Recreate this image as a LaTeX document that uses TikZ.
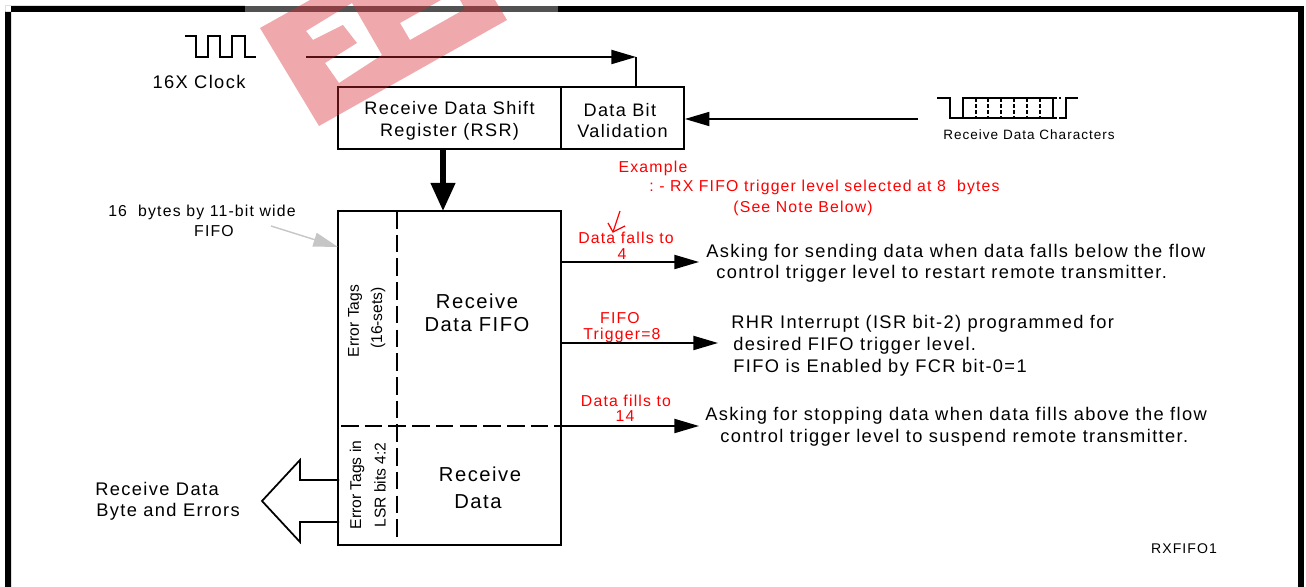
\documentclass[tikz,border=0pt]{standalone}
\usepackage{fontspec}
\setmainfont[LetterSpace=7.5]{Liberation Sans}
\newfontfamily\tagfont{Liberation Sans}
\usetikzlibrary{arrows.meta}
\definecolor{markred}{RGB}{216,40,48}
\tikzset{
  boxnode/.style={draw,line width=1pt,inner sep=0pt,align=center,font=\fontsize{10.3}{12.3}\selectfont},
  lbl/.style={inner sep=0pt,font=\fontsize{10.4}{12}\selectfont},
  biglbl/.style={inner sep=0pt,font=\fontsize{11.5}{13}\selectfont},
  notelbl/.style={inner sep=0pt,font=\fontsize{9}{10}\selectfont},
  redlbl/.style={notelbl,text=red},
  taglbl/.style={inner sep=0pt,rotate=90,font=\tagfont\fontsize{8.9}{10}\selectfont},
  smalllbl/.style={inner sep=0pt,font=\fontsize{7.7}{9}\selectfont},
  conn/.style={line width=1pt},
  flow/.style={line width=1pt,-{Triangle[length=14pt,width=8pt]}},
  bigflow/.style={line width=3pt,-{Triangle[length=16pt,width=13.5pt]}},
  noteflow/.style={draw=gray!45,line width=.8pt,-{Triangle[length=14pt,width=8pt,fill=gray!45]}},
  sepline/.style={line width=1pt,dash pattern=on 10pt off 3.5pt}
}
\begin{document}
\begin{tikzpicture}[x=0.02cm,y=-0.02cm]
  \useasboundingbox (0,0) rectangle (1306,587);

  % frame, open at the bottom
  \fill (5,587) rectangle (11,6) -- (5,6) rectangle (245,12);
  \fill[black!68] (245,6) rectangle (558,12);
  \fill (558,6) rectangle (1304,12);
  \fill (1298,6) rectangle (1304,587);

  % boxes
  \node[boxnode,minimum width=4.46cm,minimum height=1.24cm] (rsr) at (449.5,118) {\rule{0pt}{10.5pt}Receive Data Shift\\Register (RSR)};
  \node[boxnode,minimum width=2.46cm,minimum height=1.24cm] (dbv) at (622.5,118) {\rule{0pt}{10.5pt}\hspace*{-3pt}Data Bit\\Validation};
  \node[draw,line width=1pt,minimum width=4.46cm,minimum height=6.68cm] (fifo) at (449.5,378) {};

  % clock and data waves
  \draw[conn] (185,36) -- (196,36) -- (196,57) -- (208,57) -- (208,36) -- (220,36) -- (220,57)
     -- (232,57) -- (232,36) -- (245,36) -- (245,57) -- (256,57);
  \draw[conn] (937,98) -- (950,98) -- (950,118) -- (1053,118);
  \draw[conn] (963,118) -- (963,98) -- (1053,98) -- (1053,118);
  \draw[conn,dashed,dash pattern=on 2pt off 1.5pt] (1053,98) -- (1061,98);
  \draw[conn,dashed,dash pattern=on 2pt off 1.5pt] (1053,118) -- (1059,118);
  \draw[conn] (1059,118) -- (1066,118) -- (1066,98) -- (1078,98);
  \foreach \xpos in {976,988,1001,1014,1027,1040}
    \draw[conn,dash pattern=on 2pt off 1.5pt] (\xpos,98) -- (\xpos,118);

  % connectors
  \coordinate (clkin) at (306,57);
  \coordinate (clkturn) at (636,57);
  \coordinate (datain) at (918,119);
  \coordinate (fifoin) at (443,211);
  \draw[flow] (clkin) -- (clkturn);
  \draw[conn] (clkturn) -- (clkturn |- dbv.north);
  \draw[flow] (datain) -- (datain -| dbv.east);
  \draw[bigflow] (rsr.south -| fifoin) -- (fifoin);

  \coordinate (falls) at (699,262);
  \coordinate (trigger) at (718,343);
  \coordinate (fills) at (699,426);
  \draw[flow] (falls -| fifo.east) -- (falls);
  \draw[flow] (trigger -| fifo.east) -- (trigger);
  \draw[flow] (fills -| fifo.east) -- (fills);

  \coordinate (notestart) at (271,226);
  \coordinate (noteend) at (338,247);
  \draw[noteflow] (notestart) -- (noteend);

  % dashed lines inside the fifo
  \draw[sepline] (397,211) -- (397,541);
  \draw[sepline] (341,426) -- (561,426);

  % output block arrow
  \draw[line width=1pt] (339,480) -- (300,480) -- (300,460) -- (262,501) -- (300,542) -- (300,522) -- (339,522);

  % small red tick
  \draw[red,line width=.7pt] (620,211) -- (613,232);
  \draw[red,line width=.7pt] (608,223) -- (613,232) -- (625,226);

  % labels
  \node[lbl] (clklbl) at (199,82) {16X Clock};
  \node[smalllbl] (charlbl) at (1029,135) {Receive Data Characters};
  \node[biglbl] at (477,301) {Receive};
  \node[biglbl] at (477,325) {Data FIFO};
  \node[biglbl] at (480,474) {Receive};
  \node[biglbl] at (478,502) {Data};
  \node[lbl] at (157,489) {Receive Data};
  \node[lbl] at (168,512) {Byte and Errors};
  \node[redlbl] at (653,168) {Example};
  \node[redlbl,anchor=west] at (649,187) {:\ - RX FIFO trigger level selected at 8\ \ bytes};
  \node[redlbl] at (803,208) {(See Note Below)};
  \node[redlbl] at (626,238) {Data falls to};
  \node[redlbl] at (622,254) {4};
  \node[redlbl] at (620,318) {FIFO};
  \node[redlbl] at (622,335) {Trigger=8};
  \node[redlbl] at (626,401) {Data fills to};
  \node[redlbl] at (625,416) {14};
  \node[notelbl] at (202,212) {16\ \ bytes by 11-bit wide};
  \node[notelbl] at (214,231) {FIFO};
  \node[taglbl] at (355,321) {Error Tags};
  \node[taglbl] at (378,318) {(16-sets)};
  \node[taglbl] at (357,485) {Error Tags in};
  \node[taglbl] at (380,485) {LSR bits 4:2};
  \node[lbl,anchor=west] at (706,253) {Asking for sending data when data falls below the flow};
  \node[lbl,anchor=west] at (716,274) {control trigger level to restart remote transmitter.};
  \node[lbl,anchor=west] at (731,324) {RHR Interrupt (ISR bit-2) programmed for};
  \node[lbl,anchor=west] at (733,346) {desired FIFO trigger level.};
  \node[lbl,anchor=west] at (733,368) {FIFO is Enabled by FCR bit-0=1};
  \node[lbl,anchor=west] at (705,416) {Asking for stopping data when data fills above the flow};
  \node[lbl,anchor=west] at (720,438) {control trigger level to suspend remote transmitter.};
  \node[inner sep=0pt,font=\fontsize{8}{9}\selectfont] at (1184,549) {RXFIFO1};

  % watermark
  \fill[markred,opacity=.4,even odd rule]
     (260,28) -- (310,0) -- (495,0) -- (507,20) -- (319,126) -- cycle
     (306,31) -- (352,3) -- (382,55) -- (339,83) -- (325,63) -- (357,43) -- (343,25) -- (313,40) -- cycle
     (400,23) -- (441,0) -- (460,0) -- (465,9) -- (410,40) -- cycle;
\end{tikzpicture}
\end{document}
